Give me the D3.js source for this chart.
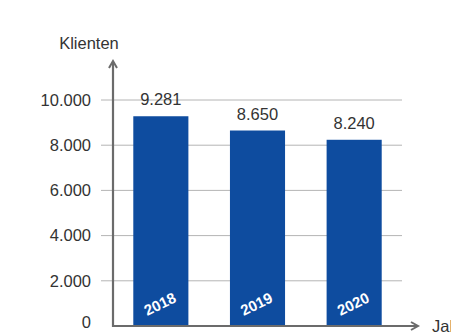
<!DOCTYPE html>
<html>
<head>
<meta charset="utf-8">
<script src="https://cdn.jsdelivr.net/npm/d3@7"></script>
<style>
  html, body { margin: 0; padding: 0; background: #fff; overflow: hidden; }
  svg { display: block; font-family: "Liberation Sans", Arial, Helvetica, sans-serif; }
</style>
</head>
<body>
<svg id="chart" width="451" height="334"></svg>
<script>
// Klienten pro Jahr
const years = ["2018", "2019", "2020"];
const clients = [9281, 8650, 8240];
const yTicks = [0, 2000, 4000, 6000, 8000, 10000];

const svg = d3.select("#chart");
const left = 113, right = 402, base = 326;

const fmt = v => d3.format(",")(v).replace(/,/g, ".");

const x = d3.scaleBand()
  .domain(years)
  .range([left, right])
  .paddingInner(0.43)
  .paddingOuter(0.21);

const y = d3.scaleLinear()
  .domain([0, 10000])
  .range([base, 100]);

// Gridlines and tick labels
const gy = svg.append("g");
gy.selectAll("line.grid")
  .data(yTicks.filter(d => d > 0))
  .join("line")
  .attr("class", "grid")
  .attr("x1", 101).attr("x2", right)
  .attr("y1", d => y(d)).attr("y2", d => y(d))
  .attr("stroke", "#b4b4b4").attr("stroke-width", 1);

gy.selectAll("text")
  .data(yTicks)
  .join("text")
  .attr("x", 91)
  .attr("y", d => y(d))
  .attr("dy", d => d === 0 ? "0.1em" : "0.35em")
  .attr("text-anchor", "end")
  .attr("font-size", 16.5)
  .attr("fill", "#333")
  .text(d => fmt(d));

// Bars
svg.append("g").selectAll("rect")
  .data(clients)
  .join("rect")
  .attr("x", (d, i) => x(years[i]))
  .attr("width", x.bandwidth())
  .attr("y", d => y(d))
  .attr("height", d => base - y(d))
  .attr("fill", "#0e4c9f");

// Value labels above the bars
svg.append("g").selectAll("text")
  .data(clients)
  .join("text")
  .attr("x", (d, i) => x(years[i]) + x.bandwidth() / 2)
  .attr("y", d => y(d) - 11)
  .attr("text-anchor", "middle")
  .attr("font-size", 16.5)
  .attr("fill", "#333")
  .text(d => fmt(d));

// Rotated year labels inside the bars
svg.append("g").selectAll("text")
  .data(years)
  .join("text")
  .attr("transform", d => `translate(${x(d) + x.bandwidth() / 2 - 1},${base - 22}) rotate(-26)`)
  .attr("text-anchor", "middle")
  .attr("dy", "0.35em")
  .attr("font-size", 15)
  .attr("font-weight", "bold")
  .attr("fill", "#fff")
  .text(d => d);

// Axes with arrowheads
const axisColor = "#6b6b6b";
svg.append("line")
  .attr("x1", left).attr("x2", left)
  .attr("y1", base + 1).attr("y2", 62)
  .attr("stroke", axisColor).attr("stroke-width", 2.2);
svg.append("path")
  .attr("d", `M${left - 4},${68} L${left},${61} L${left + 4},${68}`)
  .attr("fill", "none").attr("stroke", axisColor).attr("stroke-width", 2);

svg.append("line")
  .attr("x1", left - 1).attr("x2", 417)
  .attr("y1", base).attr("y2", base)
  .attr("stroke", axisColor).attr("stroke-width", 2.2);
svg.append("path")
  .attr("d", `M${411},${base - 4} L${418},${base} L${411},${base + 4}`)
  .attr("fill", "none").attr("stroke", axisColor).attr("stroke-width", 2);

// Axis titles
svg.append("text")
  .attr("x", 89).attr("y", 49)
  .attr("text-anchor", "middle")
  .attr("font-size", 16.5)
  .attr("fill", "#333")
  .text("Klienten");

svg.append("text")
  .attr("x", 432).attr("y", base + 6)
  .attr("font-size", 16.5)
  .attr("fill", "#333")
  .text("Jahr");
</script>
</body>
</html>
